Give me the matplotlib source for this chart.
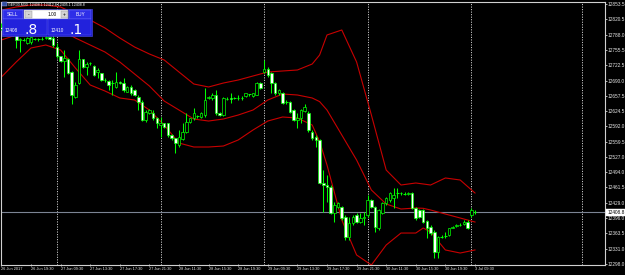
import matplotlib
matplotlib.use("Agg")
import matplotlib.pyplot as plt
from matplotlib.patches import Rectangle
import matplotlib.transforms as mtransforms

# ---------------- data ----------------
opens = [12805, 12801, 12797, 12793, 12787, 12776.5, 12777, 12771, 12773, 12779,
         12778, 12779, 12780, 12782.5, 12780, 12762, 12742.5, 12732.5, 12736, 12709,
         12655.5, 12684, 12735.5, 12719.5, 12727, 12721, 12709, 12705.5, 12691, 12689.5,
         12684, 12677, 12687.5, 12684, 12666.5, 12677, 12670, 12655.5, 12645, 12605.5,
         12620, 12620, 12609.5, 12595, 12598.5, 12598.5, 12573.5, 12566.5, 12552.5, 12565,
         12580.5, 12602, 12609, 12613, 12612.5, 12616.5, 12652, 12652, 12659, 12621,
         12616.5, 12651, 12653, 12653, 12653, 12654, 12657, 12660, 12657, 12659,
         12685.5, 12707.5, 12714.5, 12705.5, 12684, 12662.5, 12662.5, 12645, 12645, 12627,
         12605.5, 12609, 12625, 12620, 12580.5, 12570, 12563, 12470.5, 12467, 12463.5,
         12406.5, 12420.5, 12420.5, 12399, 12356.5, 12385, 12402.5, 12388.5, 12396, 12402.5,
         12435, 12420.5, 12374, 12406.5, 12427.5, 12435, 12438.5, 12449, 12449, 12449,
         12448, 12449, 12417, 12413.5, 12413.5, 12390, 12378, 12367, 12324.5, 12356,
         12358, 12360, 12376, 12379, 12381, 12384.5, 12388.5, 12402.5, 12408.1]
highs = [12812, 12806, 12801, 12797, 12794, 12780, 12780, 12782, 12784, 12781,
         12781, 12783, 12785, 12784, 12787, 12769.5, 12743, 12755, 12738, 12710,
         12687.5, 12755, 12737, 12730, 12729, 12724, 12716, 12707, 12694.5, 12691,
         12691, 12709, 12689, 12695, 12678, 12680.5, 12671, 12659, 12648.5, 12627,
         12629, 12627, 12612.5, 12612.5, 12600, 12600, 12575, 12568, 12584.5, 12598.5,
         12620, 12611, 12630.5, 12617, 12622, 12673.5, 12657, 12662.5, 12670, 12623,
         12654, 12654, 12664, 12655, 12659, 12657, 12664, 12662, 12664, 12687.5,
         12687, 12734, 12719, 12708, 12686, 12672, 12665, 12648, 12647, 12629,
         12620, 12629, 12639, 12625, 12584, 12573, 12565, 12499, 12488, 12466,
         12431, 12430, 12423, 12402.5, 12399, 12402.5, 12406, 12406, 12410, 12445.5,
         12437, 12422, 12415, 12430, 12441, 12452.5, 12459.5, 12459.5, 12452, 12452,
         12452, 12452, 12420.5, 12415, 12416, 12392, 12381, 12370.5, 12358, 12360,
         12367, 12376, 12380, 12384, 12385, 12391, 12392, 12417, 12412.8]
lows = [12798, 12795, 12790, 12786, 12759.5, 12751.5, 12774, 12769, 12769, 12776,
        12775, 12776, 12779, 12777, 12762, 12737.5, 12730, 12698, 12704, 12640,
        12652, 12682, 12717, 12702, 12723, 12700, 12695, 12689, 12686, 12670,
        12659, 12675, 12682, 12666, 12665, 12659, 12656, 12627, 12604, 12602,
        12618, 12605.5, 12588, 12570, 12589, 12570, 12564, 12534.5, 12549, 12562,
        12577, 12600, 12605.5, 12610, 12611, 12612.5, 12650, 12648.5, 12616.5, 12614,
        12614, 12649, 12641.5, 12651, 12648, 12648, 12655, 12658, 12655, 12659,
        12671, 12705.5, 12698, 12663, 12660, 12660, 12639, 12640, 12620, 12603,
        12588, 12600, 12623, 12580, 12563, 12549, 12468, 12410, 12431, 12404,
        12388.5, 12418, 12393, 12349.5, 12349.5, 12381, 12385, 12385, 12381, 12399,
        12418, 12367, 12370, 12404, 12425, 12431, 12417, 12438.5, 12446, 12445,
        12445, 12415, 12392, 12396, 12386, 12353, 12360, 12310, 12310, 12353,
        12353, 12358, 12374, 12377, 12379, 12382, 12372, 12399, 12405.1]
closes = [12801, 12797, 12793, 12788, 12776.5, 12778.5, 12777.5, 12780, 12782, 12779,
          12779, 12780, 12783, 12778.5, 12766, 12742.5, 12732.5, 12737.5, 12706.5, 12659,
          12680.5, 12735.5, 12719.5, 12724.5, 12726, 12702, 12712.5, 12691, 12690, 12680.5,
          12685, 12687.5, 12684, 12670, 12677, 12662.5, 12659, 12645, 12605.5, 12623.5,
          12627, 12609.5, 12598.5, 12598.5, 12591.5, 12573.5, 12566.5, 12556, 12570, 12580.5,
          12602, 12609, 12620, 12613.5, 12620, 12648.5, 12655.5, 12659, 12620, 12616.5,
          12652, 12652, 12650, 12653.5, 12654, 12653, 12662.5, 12660.5, 12662.5, 12685.5,
          12673.5, 12714.5, 12702, 12684, 12662.5, 12670, 12641.5, 12644, 12623.5, 12605.5,
          12609, 12627, 12634, 12584.5, 12566.5, 12563, 12470.5, 12467, 12463.5, 12406.5,
          12424, 12427.5, 12395.5, 12356.5, 12385, 12399, 12388.5, 12395.5, 12399, 12435,
          12420.5, 12378, 12413.5, 12427.5, 12438.5, 12449, 12445.5, 12449.5, 12449.5, 12448,
          12449.5, 12417, 12395.5, 12399, 12388.5, 12374, 12363.5, 12324.5, 12356.5, 12357,
          12359, 12374, 12378, 12381.5, 12382, 12388.5, 12374, 12413.5, 12408.8]

bb_bars = [0, 4, 8, 12, 16, 20, 24, 28, 32, 36, 40, 44, 48, 52, 56, 60, 64, 68, 72,
           76, 80, 84, 86, 88, 92, 96, 100, 104, 108, 112, 114, 116, 120, 124, 128]
bb_upper = [12840.7, 12847.1, 12851.4, 12851.4, 12847.1, 12832.1, 12819.3, 12802.2, 12780.9,
            12761.6, 12746.7, 12733.9, 12708.2, 12682.6, 12676.2, 12684.7, 12691.1, 12699.7,
            12708.2, 12710.4, 12712.5, 12725.3, 12744.5, 12787.3, 12798.0, 12729.6, 12616.3,
            12498.8, 12466.8, 12471.1, 12469.0, 12466.8, 12481.8, 12477.5, 12449.7]
bb_mid = [12776.6, 12787.3, 12798.0, 12802.2, 12798.0, 12780.9, 12765.9, 12750.9, 12729.6,
          12704.0, 12678.3, 12646.2, 12627.0, 12607.8, 12603.5, 12607.8, 12616.3, 12627.0,
          12648.4, 12661.2, 12659.1, 12652.7, 12645.0, 12627.0, 12573.6, 12520.2, 12456.1,
          12426.2, 12415.5, 12417.7, 12417.0, 12413.4, 12404.8, 12396.3, 12387.7]
bb_lower = [12697.5, 12729.6, 12759.5, 12765.9, 12755.2, 12716.8, 12680.5, 12667.6, 12652.7,
            12648.4, 12627.0, 12595.0, 12556.5, 12548.0, 12548.0, 12550.1, 12563.0, 12584.3,
            12603.5, 12612.1, 12609.9, 12595.0, 12560.0, 12509.5, 12392.0, 12317.3, 12295.9,
            12338.6, 12364.2, 12364.2, 12374.9, 12366.4, 12328.0, 12321.5, 12328.0]

price_ticks = [12853.5, 12820.5, 12788.0, 12755.5, 12722.5, 12690.0, 12657.5, 12624.5,
               12592.0, 12559.5, 12527.0, 12494.0, 12461.5, 12429.0, 12396.0, 12363.5,
               12331.0, 12298.0]
time_tick_bars = [0, 8, 16, 24, 32, 40, 48, 56, 64, 72, 80, 88, 96, 104, 112, 120, 128]
time_tick_labels = ["26 Jun 2017", "26 Jun 19:30", "27 Jun 09:30", "27 Jun 13:30",
                    "27 Jun 17:30", "27 Jun 21:30", "28 Jun 11:30", "28 Jun 15:30",
                    "28 Jun 19:30", "29 Jun 09:30", "29 Jun 13:30", "29 Jun 17:30",
                    "29 Jun 21:30", "30 Jun 11:30", "30 Jun 15:30", "30 Jun 19:30",
                    "3 Jul 09:30"]
separator_bars = [15, 43, 71, 99, 127, 157]
bid_price = 12408.8
title_text = "GER30,M30  12408.1 12412.8 12405.1 12408.8"
lot_text = "1.00"
sell_big, sell_small = ".8", "12408"
buy_big, buy_small = ".1", "12410"

# ---------------- figure ----------------
W, H = 625, 275
FONT = ['Liberation Sans', 'DejaVu Sans']
plt.rcParams['font.family'] = FONT
YFS = 3.45    # right axis labels
XFS = 2.8     # time labels

fig = plt.figure(figsize=(W / 100, H / 100), dpi=100, facecolor='black')
ax = fig.add_axes([1 / W, 10 / H, 604 / W, 263.5 / H])
ax.set_facecolor('black')
ax.set_xlim(-0.11, 163.14)
ax.set_ylim(12295.9, 12858.85)

LIME = '#00ff00'
for b in separator_bars:
    ax.axvline(b, color='#c8c8c8', lw=0.7, ls=(0, (1.2, 1.4)), zorder=1)

ax.axhline(bid_price, color='#7c8494', lw=0.8, zorder=1)

for band in (bb_upper, bb_mid, bb_lower):
    ax.plot(bb_bars, band, color='#c80000', lw=0.8, zorder=2)

bw = 0.7
for i, (o, h, l, c) in enumerate(zip(opens, highs, lows, closes)):
    ax.vlines(i, l, h, color=LIME, lw=0.75, zorder=3)
    lo, hi = min(o, c), max(o, c)
    if hi - lo < 1.2:
        ax.hlines((o + c) / 2, i - bw / 2, i + bw / 2, color=LIME, lw=0.75, zorder=4)
    else:
        face = 'black' if c > o else 'white'
        ax.add_patch(Rectangle((i - bw / 2, lo), bw, hi - lo, facecolor=face,
                               edgecolor=LIME, lw=0.5, zorder=4))

for s in ax.spines.values():
    s.set_color('#d0d0d0')
    s.set_linewidth(0.8)

ax.yaxis.tick_right()
ax.set_yticks(price_ticks)
ax.set_yticklabels([f"{v:.1f}" for v in price_ticks])
ax.set_xticks(time_tick_bars)
ax.set_xticklabels(time_tick_labels, ha='left')
ax.tick_params(axis='y', colors='#d0d0d0', labelcolor='#e8e8e8', length=1.5, width=0.6,
               labelsize=YFS, pad=0.5)
ax.tick_params(axis='x', colors='#d0d0d0', labelcolor='#e8e8e8', length=2.0, width=0.6,
               labelsize=XFS, pad=0.3, direction='inout')

trans = mtransforms.blended_transform_factory(ax.transAxes, ax.transData)
ax.text(1.0035, bid_price, f"{bid_price:.1f}", transform=trans, ha='left', va='center',
        fontsize=YFS, color='black', zorder=10,
        bbox=dict(boxstyle='square,pad=0.2', fc='white', ec='white', lw=0.3))


# ---------------- one-click trading panel (figure pixel coords) ----------------
def R(x, y, w, h, **kw):
    fig.patches.append(Rectangle((x / W, 1 - (y + h) / H), w / W, h / H,
                                 transform=fig.transFigure, **kw))


def T(x, y, s, **kw):
    fig.text(x / W, 1 - y / H, s, **kw)


R(2, 1.5, 4.5, 4.5, facecolor='#3050a0', edgecolor='#a0a0ff', lw=0.3)
T(8, 4.2, title_text, color='white', fontsize=2.6, va='center', ha='left')

R(2, 9, 90, 26.5, facecolor='#1818c8', edgecolor='#5050f0', lw=0.4)
R(3, 10, 20, 8.5, facecolor='#2e2ee8', edgecolor='#8080ff', lw=0.3)
T(13, 14.4, "SELL", color='white', fontsize=3.4, ha='center', va='center')
R(24, 10, 44, 8.5, facecolor='white', edgecolor='#a0a0a0', lw=0.3)
R(25, 10.8, 7, 7, facecolor='#d4d4d4', edgecolor='#909090', lw=0.3)
R(61, 10.8, 6.5, 7, facecolor='#d4d4d4', edgecolor='#909090', lw=0.3)
T(28.5, 14.3, "-", color='black', fontsize=3.4, ha='center', va='center')
T(64.2, 14.3, "+", color='black', fontsize=3.4, ha='center', va='center')
T(52, 14.4, lot_text, color='black', fontsize=3.4, ha='center', va='center')
R(69, 10, 22, 8.5, facecolor='#2e2ee8', edgecolor='#8080ff', lw=0.3)
T(80, 14.4, "BUY", color='white', fontsize=3.4, ha='center', va='center')
R(3, 19.3, 44, 15.7, facecolor='#2222dc', edgecolor='#6060ff', lw=0.3)
R(48, 19.3, 43, 15.7, facecolor='#2222dc', edgecolor='#6060ff', lw=0.3)
T(4.5, 30.5, sell_small, color='white', fontsize=3.4, ha='left', va='center')
T(24.5, 33.5, sell_big, color='white', fontsize=10, ha='left', va='baseline',
  family=['DejaVu Sans'])
T(50.5, 30.5, buy_small, color='white', fontsize=3.4, ha='left', va='center')
T(69.5, 33.5, buy_big, color='white', fontsize=10, ha='left', va='baseline',
  family=['DejaVu Sans'])

fig.savefig('out.png', dpi=100, facecolor='black')
